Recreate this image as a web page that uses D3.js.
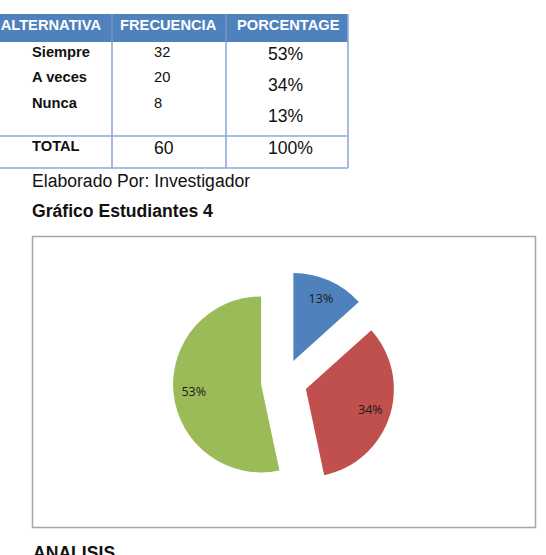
<!DOCTYPE html>
<html>
<head>
<meta charset="utf-8">
<script src="https://cdn.jsdelivr.net/npm/d3@7"></script>
<style>
  body { margin: 0; background: #fff; }
  svg { display: block; }
</style>
</head>
<body>
<div class="chart"></div>
<script>
// Table data
const headers = ["ALTERNATIVA", "FRECUENCIA", "PORCENTAGE"];
const categories = ["Siempre", "A veces", "Nunca"];
const frequencies = [32, 20, 8];
const percentages = ["53%", "34%", "13%"];
const totalRow = ["TOTAL", "60", "100%"];

// Pie data (order as drawn, clockwise from 12 o'clock)
const pieCategories = ["Nunca", "A veces", "Siempre"];
const pieValues = [8, 20, 32];
const pieLabels = ["13%", "34%", "53%"];
const pieColors = ["#4F81BD", "#C0504D", "#9BBB59"];

const width = 546, height = 555;
const svg = d3.select(".chart").append("svg")
    .attr("width", width)
    .attr("height", height);

const font = "'Liberation Sans', Arial, sans-serif";
const small = 14.7, big = 17.6;

// Table
const colX = [-10, 112, 226, 348];
const headerTop = 14, headerBottom = 42, totalTop = 136, tableBottom = 168;
const lineColor = "#8EAADB";

svg.append("rect")
    .attr("x", colX[0]).attr("y", headerTop)
    .attr("width", colX[3] - colX[0]).attr("height", headerBottom - headerTop)
    .attr("fill", "#4F81BD");

// inner column separators in header (light)
[colX[1], colX[2]].forEach(x => {
    svg.append("line")
        .attr("x1", x).attr("x2", x).attr("y1", headerTop).attr("y2", headerBottom)
        .attr("stroke", "#7396C8").attr("stroke-width", 1.5);
});

// body lines
const g = svg.append("g").attr("stroke", lineColor).attr("stroke-width", 1.6).attr("fill", "none");
g.append("line").attr("x1", colX[0]).attr("x2", colX[3]).attr("y1", totalTop).attr("y2", totalTop);
g.append("line").attr("x1", colX[0]).attr("x2", colX[3]).attr("y1", tableBottom).attr("y2", tableBottom);
[colX[1], colX[2], colX[3]].forEach(x => {
    g.append("line").attr("x1", x).attr("x2", x).attr("y1", headerBottom).attr("y2", tableBottom);
});
svg.append("line").attr("x1", colX[3]).attr("x2", colX[3]).attr("y1", headerTop).attr("y2", headerBottom)
    .attr("stroke", lineColor).attr("stroke-width", 1.6);

// header text
const headerX = [101, 120, 237];
const headerAnchor = ["end", "start", "start"];
headers.forEach((h, i) => {
    svg.append("text")
        .attr("x", headerX[i]).attr("y", 30)
        .attr("text-anchor", headerAnchor[i])
        .attr("font-family", font).attr("font-size", small).attr("font-weight", "bold")
        .attr("fill", "#fff")
        .text(h);
});

// rows
const rowY = [57, 82, 108];
categories.forEach((c, i) => {
    svg.append("text")
        .attr("x", 32).attr("y", rowY[i])
        .attr("font-family", font).attr("font-size", small).attr("font-weight", "bold")
        .attr("fill", "#111").text(c);
    svg.append("text")
        .attr("x", 154).attr("y", rowY[i])
        .attr("font-family", font).attr("font-size", small)
        .attr("fill", "#111").text(frequencies[i]);
});
const pctY = [60, 91, 122];
percentages.forEach((p, i) => {
    svg.append("text")
        .attr("x", 268).attr("y", pctY[i])
        .attr("font-family", font).attr("font-size", big)
        .attr("fill", "#111").text(p);
});

svg.append("text").attr("x", 32).attr("y", 151)
    .attr("font-family", font).attr("font-size", small).attr("font-weight", "bold")
    .attr("fill", "#111").text(totalRow[0]);
svg.append("text").attr("x", 154).attr("y", 154)
    .attr("font-family", font).attr("font-size", big)
    .attr("fill", "#111").text(totalRow[1]);
svg.append("text").attr("x", 268).attr("y", 154)
    .attr("font-family", font).attr("font-size", big)
    .attr("fill", "#111").text(totalRow[2]);

// captions
svg.append("text").attr("x", 32).attr("y", 187)
    .attr("font-family", font).attr("font-size", big)
    .attr("fill", "#111").text("Elaborado Por: Investigador");
svg.append("text").attr("x", 32).attr("y", 217)
    .attr("font-family", font).attr("font-size", big).attr("font-weight", "bold")
    .attr("fill", "#111").text("Gráfico Estudiantes 4");

// Chart box
svg.append("rect")
    .attr("x", 32.5).attr("y", 236.5)
    .attr("width", 503).attr("height", 291)
    .attr("fill", "#fff")
    .attr("stroke", "#A6A6A6").attr("stroke-width", 1.5);

// Pie
const cx = 284, cy = 382, radius = 88, explode = 23;
const pie = d3.pie().sort(null).value(d => d.value);
const arc = d3.arc().innerRadius(0).outerRadius(radius);
const labelArc = d3.arc().innerRadius(radius * 0.77).outerRadius(radius * 0.77);

const data = pieValues.map((v, i) => ({ name: pieCategories[i], value: v, label: pieLabels[i], color: pieColors[i] }));

const pieG = svg.append("g").attr("transform", `translate(${cx},${cy})`);
const slices = pieG.selectAll(".arc")
    .data(pie(data))
    .enter().append("g")
    .attr("class", "arc")
    .attr("transform", d => {
        const a = (d.startAngle + d.endAngle) / 2;
        return `translate(${explode * Math.sin(a)},${-explode * Math.cos(a)})`;
    });

slices.append("path")
    .attr("d", arc)
    .attr("fill", d => d.data.color);

slices.append("text")
    .attr("transform", d => `translate(${labelArc.centroid(d)})`)
    .attr("text-anchor", "middle")
    .attr("dy", "0.35em")
    .attr("font-family", "'Open Sans', 'Liberation Sans', sans-serif")
    .attr("font-size", 12.5)
    .attr("fill", "#1a1a1a")
    .text(d => d.data.label);

// Footer heading
svg.append("text").attr("x", 33).attr("y", 559)
    .attr("font-family", font).attr("font-size", big).attr("font-weight", "bold")
    .attr("fill", "#111").text("ANALISIS");
</script>
</body>
</html>
